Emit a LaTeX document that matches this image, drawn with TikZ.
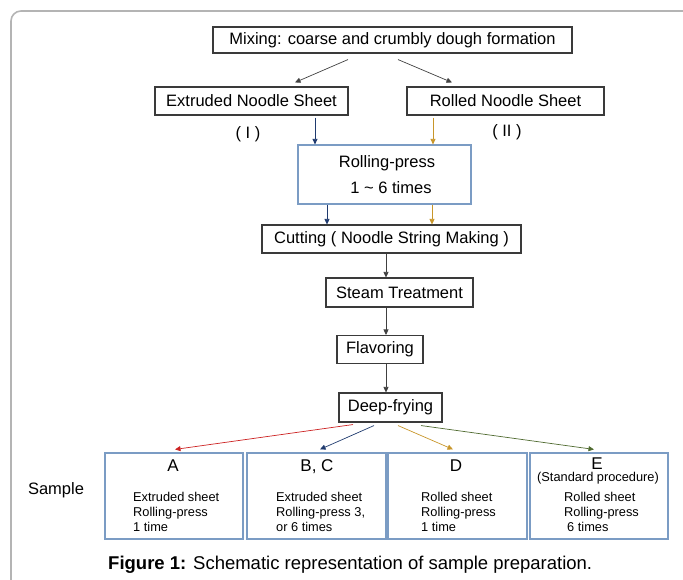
\documentclass[tikz,border=0pt]{standalone}
\usepackage{fontspec}
\setmainfont{Liberation Sans}
\usetikzlibrary{arrows.meta}
\definecolor{framec}{HTML}{B4B4B4}
\definecolor{bbox}{HTML}{3A3A3A}
\definecolor{bluebox}{HTML}{7B9CC4}
\definecolor{navyc}{HTML}{1F3A6E}
\definecolor{goldc}{HTML}{C8962A}
\definecolor{redc}{HTML}{CC2222}
\definecolor{greenc}{HTML}{4F6A2F}
\definecolor{arrg}{HTML}{404040}
\begin{document}
\begin{tikzpicture}[x=1pt,y=-1pt,
  blackbox/.style={draw=bbox, line width=1.1pt, rectangle, inner sep=0pt, font=\fontsize{16.5}{20}\selectfont},
  bluebx/.style={draw=bluebox, line width=1.2pt, rectangle, inner sep=0pt},
  arr/.style={-{Triangle[length=5.5pt,width=5pt]}, line width=0.7pt},
  bigtxt/.style={inner sep=0pt, font=\fontsize{16.5}{20}\selectfont},
  lettertxt/.style={inner sep=0pt, anchor=base, font=\fontsize{17}{20}\selectfont},
  smalltxt/.style={inner sep=0pt, align=left, anchor=west, font=\fontsize{12.8}{15}\selectfont},
]
\useasboundingbox (0,0) rectangle (683,579);
\draw[framec, line width=1.6pt, rounded corners=10pt] (11,700) -- (11,11) -- (700,11);

% top boxes
\node[blackbox, minimum width=359pt, minimum height=26pt] (mix) at (392.5,40) {Mixing: coarse and crumbly dough formation};
\node[blackbox, minimum width=193pt, minimum height=28pt] (ext) at (251.5,101) {Extruded Noodle Sheet};
\node[blackbox, minimum width=197pt, minimum height=28pt] (rol) at (505.5,101) {Rolled Noodle Sheet};
\node[bigtxt] (lI) at (248,134) {( I )};
\node[bigtxt] (lII) at (507,132) {( II )};
\node[bluebx, minimum width=173pt, minimum height=59pt] (rp) at (384.5,174.5) {};
\node[bigtxt] (rpt1) at (387,163) {Rolling-press};
\node[bigtxt] (rpt2) at (391,188) {1 \textasciitilde{} 6 times};
\node[blackbox, minimum width=259pt, minimum height=28pt] (cut) at (391.5,239) {Cutting ( Noodle String Making )};
\node[blackbox, minimum width=147pt, minimum height=29pt] (steam) at (399.5,292.5) {Steam Treatment};
\node[blackbox, minimum width=86pt, minimum height=28pt] (flav) at (380,349.5) {Flavoring};
\node[blackbox, minimum width=103pt, minimum height=29pt] (deep) at (390.5,407.5) {Deep-frying};

% bottom boxes
\node[bluebx, minimum width=138pt, minimum height=86pt] (bA) at (174,496) {};
\node[bluebx, minimum width=139pt, minimum height=86pt] (bBC) at (316.5,496) {};
\node[bluebx, minimum width=139pt, minimum height=86pt] (bD) at (457.5,496) {};
\node[bluebx, minimum width=138pt, minimum height=86pt] (bE) at (599,496) {};
\node[lettertxt] (tA) at (173,471) {A};
\node[lettertxt] (tBC) at (317,471) {B, C};
\node[lettertxt] (tD) at (456,471) {D};
\node[lettertxt] (tE) at (597,469.5) {E};
\node[inner sep=0pt, font=\fontsize{12.8}{15}\selectfont] (tstd) at (598,478.5) {(Standard procedure)};
\node[smalltxt] (dA) at (133,512) {Extruded sheet\\Rolling-press\\1 time};
\node[smalltxt] (dBC) at (276,512) {Extruded sheet\\Rolling-press 3,\\or 6 times};
\node[smalltxt] (dD) at (421,512) {Rolled sheet\\Rolling-press\\1 time};
\node[smalltxt] (dE) at (564,512) {Rolled sheet\\Rolling-press\\\hspace*{3pt}6 times};
\node[bigtxt] (sample) at (56,490) {Sample};
\node[inner sep=0pt, anchor=west, font=\fontsize{18.5}{22}\selectfont] (cap) at (108,565) {\textbf{Figure 1:} Schematic representation of sample preparation.};

% arrows
\draw[arr, arrg] ([xshift=-44.5pt,yshift=-6pt]mix.south) -- ([xshift=43.5pt,yshift=4pt]ext.north);
\draw[arr, arrg] ([xshift=5.5pt,yshift=-6pt]mix.south) -- ([xshift=-53.5pt,yshift=4pt]rol.north);
\draw[arr, navyc] ([xshift=63.5pt,yshift=-2pt]ext.south) -- ([xshift=-69.5pt]rp.north);
\draw[arr, goldc] ([xshift=-72.5pt,yshift=-2pt]rol.south) -- ([xshift=48.5pt]rp.north);
\draw[arr, navyc] ([xshift=-57.5pt]rp.south) -- ([xshift=-64.5pt]cut.north);
\draw[arr, goldc] ([xshift=47.5pt]rp.south) -- ([xshift=40.5pt]cut.north);
\draw[arr, arrg] ([xshift=-5.5pt]cut.south) -- ([xshift=-13.5pt]steam.north);
\draw[arr, arrg] ([xshift=-13.5pt]steam.south) -- ([xshift=6pt]flav.north);
\draw[arr, arrg] ([xshift=6pt]flav.south) -- ([xshift=-4.5pt]deep.north);
\draw[arr, redc] ([xshift=-37.5pt,yshift=-2pt]deep.south) -- ([xshift=1pt,yshift=3pt]bA.north);
\draw[arr, navyc] ([xshift=-16.5pt,yshift=-3pt]deep.south) -- ([xshift=3.5pt,yshift=3pt]bBC.north);
\draw[arr, goldc] ([xshift=7.5pt,yshift=-3pt]deep.south) -- ([xshift=-4.5pt,yshift=3pt]bD.north);
\draw[arr, greenc] ([xshift=30.5pt,yshift=-3pt]deep.south) -- ([xshift=-5pt,yshift=3pt]bE.north);
\end{tikzpicture}
\end{document}
